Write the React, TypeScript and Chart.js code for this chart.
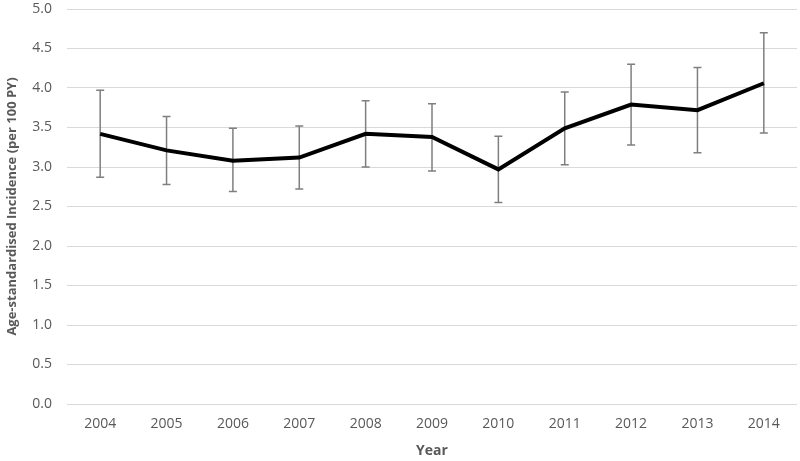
import React, { useEffect, useRef } from "react";
import { Chart, registerables } from "chart.js";

Chart.register(...registerables);

const years = ["2004", "2005", "2006", "2007", "2008", "2009", "2010", "2011", "2012", "2013", "2014"];
const incidence = [3.42, 3.21, 3.08, 3.12, 3.42, 3.38, 2.97, 3.49, 3.79, 3.72, 4.06];
const upperCI = [3.97, 3.64, 3.49, 3.52, 3.84, 3.80, 3.39, 3.95, 4.30, 4.26, 4.70];
const lowerCI = [2.87, 2.78, 2.69, 2.72, 3.00, 2.95, 2.55, 3.03, 3.28, 3.18, 3.43];

const FONT = "'Open Sans', 'Liberation Sans', sans-serif";

const errorBarPlugin = {
  id: "errorBars",
  beforeDatasetsDraw(chart: any) {
    const ctx = chart.ctx;
    const xs = chart.scales.x;
    const ys = chart.scales.y;
    ctx.save();
    ctx.strokeStyle = "#7f7f7f";
    ctx.lineWidth = 1.5;
    const cap = 4;
    for (let i = 0; i < years.length; i++) {
      const x = xs.getPixelForValue(i);
      const yt = ys.getPixelForValue(upperCI[i]);
      const yb = ys.getPixelForValue(lowerCI[i]);
      ctx.beginPath();
      ctx.moveTo(x, yt);
      ctx.lineTo(x, yb);
      ctx.moveTo(x - cap, yt);
      ctx.lineTo(x + cap, yt);
      ctx.moveTo(x - cap, yb);
      ctx.lineTo(x + cap, yb);
      ctx.stroke();
    }
    ctx.restore();
  },
};

export default function App() {
  const ref = useRef<HTMLCanvasElement | null>(null);
  useEffect(() => {
    document.body.style.margin = "0";
    const chart = new Chart(ref.current as HTMLCanvasElement, {
      type: "line",
      data: {
        labels: years,
        datasets: [
          {
            data: incidence,
            borderColor: "#000000",
            borderWidth: 4,
            pointRadius: 0,
            fill: false,
            tension: 0,
          },
        ],
      },
      options: {
        responsive: false,
        animation: false,
        devicePixelRatio: 1,
        layout: { padding: { top: 9, right: 3, left: 0, bottom: 0 } },
        plugins: { legend: { display: false }, tooltip: { enabled: false } },
        scales: {
          x: {
            offset: true,
            grid: { display: false, drawTicks: false },
            border: { display: false },
            ticks: { color: "#595959", font: { family: FONT, size: 14 }, padding: 12 },
            title: {
              display: true,
              text: "Year",
              color: "#595959",
              font: { family: FONT, size: 14, weight: "bold" },
              padding: { top: 2, bottom: 2 },
            },
            afterFit(scale: any) {
              scale.height = 57;
              scale.paddingLeft = 0;
              scale.paddingRight = 0;
            },
          },
          y: {
            min: 0,
            max: 5,
            ticks: {
              stepSize: 0.5,
              color: "#595959",
              font: { family: FONT, size: 14 },
              padding: 15,
              callback: (v: any) => Number(v).toFixed(1),
            },
            grid: { color: "#d9d9d9", lineWidth: 1, drawTicks: false },
            border: { display: false },
            title: {
              display: true,
              text: "Age-standardised Incidence (per 100 PY)",
              color: "#595959",
              font: { family: FONT, size: 13, weight: "bold" },
              padding: { top: 4, bottom: 4 },
            },
            afterFit(scale: any) {
              scale.width = 67;
              scale.paddingTop = 0;
              scale.paddingBottom = 0;
            },
          },
        },
      },
      plugins: [errorBarPlugin],
    });
    return () => chart.destroy();
  }, []);
  return <canvas ref={ref} width={800} height={461} style={{ display: "block" }} />;
}
